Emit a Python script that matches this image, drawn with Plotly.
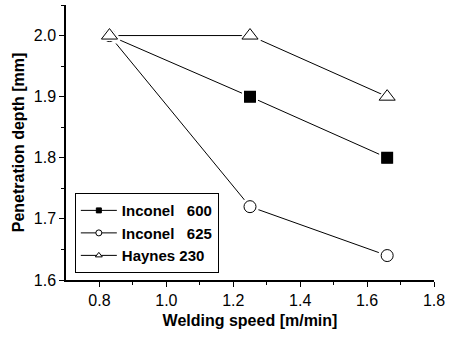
import plotly.graph_objects as go

speed = [0.83, 1.25, 1.66]
inconel600 = [2.0, 1.9, 1.8]
inconel625 = [2.0, 1.72, 1.64]
haynes230 = [2.0, 2.0, 1.9]
names = ["Inconel\u00a0\u00a0\u00a0600", "Inconel\u00a0\u00a0\u00a0625", "Haynes 230"]

font = "Liberation Sans, Arial, sans-serif"
fig = go.Figure()
series = [
    (inconel600, names[0], "square", "black", 10, 5),
    (inconel625, names[1], "circle", "white", 12, 6),
    (haynes230, names[2], "triangle-up", "white", 14, 6),
]
for ys, nm, sym, fill, sz, lsz in series:
    fig.add_trace(go.Scatter(x=speed, y=ys, mode="lines", showlegend=False,
                             line=dict(color="black", width=1), hoverinfo="skip"))
for ys, nm, sym, fill, sz, lsz in series:
    # white halo producing the gap between lines and markers
    fig.add_trace(go.Scatter(x=speed, y=ys, mode="markers", showlegend=False,
                             marker=dict(symbol=sym, color=fill, size=sz + 4,
                                         line=dict(color="white", width=2)), hoverinfo="skip"))
    fig.add_trace(go.Scatter(x=speed, y=ys, mode="markers", showlegend=False, name=nm,
                             marker=dict(symbol=sym, color=fill, size=sz,
                                         line=dict(color="black", width=1))))
for ys, nm, sym, fill, sz, lsz in series:
    fig.add_trace(go.Scatter(x=[None], y=[None], name=nm, mode="lines+markers",
                             line=dict(color="black", width=1),
                             marker=dict(symbol=sym, color=fill, size=lsz,
                                         line=dict(color="black", width=1))))

fig.update_layout(
    width=451, height=337,
    margin=dict(l=66, r=17, t=5, b=57),
    paper_bgcolor="white", plot_bgcolor="white",
    font=dict(family=font, color="black", size=16),
    showlegend=True,
    legend=dict(x=0.024, y=0.025, xanchor="left", yanchor="bottom",
                bordercolor="black", borderwidth=1, bgcolor="white",
                font=dict(size=15, family=font, weight="bold"),
                itemwidth=36, tracegroupgap=0),
)
fig.update_xaxes(range=[0.7, 1.8], tickvals=[0.8, 1.0, 1.2, 1.4, 1.6, 1.8],
                 ticktext=["0.8", "1.0", "1.2", "1.4", "1.6", "1.8"],
                 showline=True, linecolor="black", linewidth=1.5, mirror=False,
                 ticks="outside", ticklen=5, tickwidth=1, tickcolor="black",
                 minor=dict(tickvals=[0.9, 1.1, 1.3, 1.5, 1.7], ticks="outside", ticklen=3, tickcolor="black"),
                 showgrid=False, zeroline=False,
                 tickfont=dict(size=16),
                 title=dict(text="Welding speed [m/min]", font=dict(size=16, weight="bold"), standoff=7))
fig.update_yaxes(range=[1.6, 2.05], tickvals=[1.6, 1.7, 1.8, 1.9, 2.0],
                 ticktext=["1.6", "1.7", "1.8", "1.9", "2.0"],
                 showline=True, linecolor="black", linewidth=1.5, mirror=False,
                 ticks="outside", ticklen=5, tickwidth=1, tickcolor="black",
                 minor=dict(tickvals=[1.65, 1.75, 1.85, 1.95, 2.05], ticks="outside", ticklen=3, tickcolor="black"),
                 showgrid=False, zeroline=False,
                 tickfont=dict(size=16),
                 title=dict(text="Penetration depth [mm]", font=dict(size=16, weight="bold"), standoff=5))

fig.write_html("out.html")
